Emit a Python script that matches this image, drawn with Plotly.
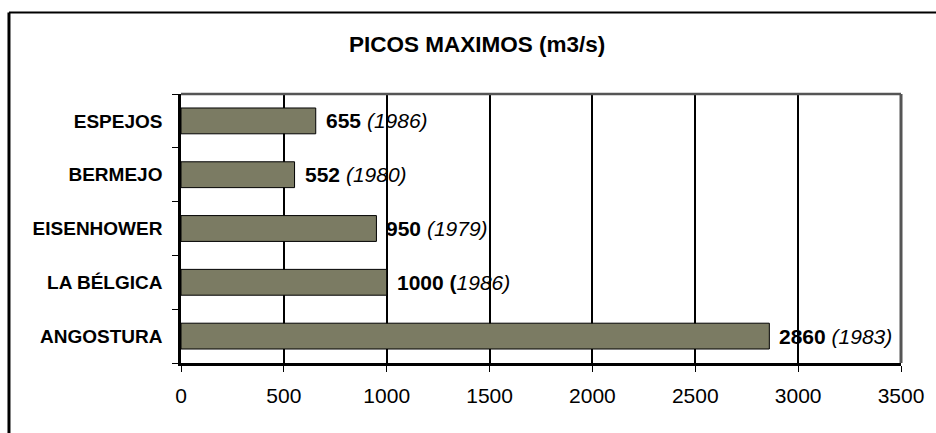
import plotly.graph_objects as go

# Peak discharges per station (bottom to top)
stations = ["ANGOSTURA", "LA BÉLGICA", "EISENHOWER", "BERMEJO", "ESPEJOS"]
peaks = [2860, 1000, 950, 552, 655]
years = [1983, 1986, 1979, 1980, 1986]
x_ticks = [0, 500, 1000, 1500, 2000, 2500, 3000, 3500]

W, H = 936, 433
L, R, T, B = 181, 33, 94, 70
pw, ph = W - L - R, H - T - B

FONT = "Liberation Sans, Arial, sans-serif"
BAR = "#7b7b63"


def px_x(p):
    return (p - L) / pw


def px_y(p):
    return (H - B - p) / ph


fig = go.Figure(go.Bar(
    x=peaks, y=stations, orientation="h",
    width=0.48,
    marker=dict(color=BAR, line=dict(color="black", width=1)),
    hoverinfo="x+y",
))

# value + year labels beside each bar
annotations = []
for s, v, yr in zip(stations, peaks, years):
    if v == 1000:
        txt = f"<b>{v} (</b><i>{yr})</i>"
    else:
        txt = f"<b>{v}</b> <i>({yr})</i>"
    annotations.append(dict(
        x=v, y=s, xref="x", yref="y", text=txt, showarrow=False,
        xanchor="left", yanchor="middle", xshift=8,
        font=dict(family=FONT, size=21, color="black"),
    ))

# chart title
annotations.append(dict(
    x=px_x(478), y=px_y(44), xref="paper", yref="paper",
    text="<b>PICOS MAXIMOS (m3/s)</b>", showarrow=False,
    xanchor="center", yanchor="middle",
    font=dict(family=FONT, size=22.5, color="black"),
))

shapes = [
    # outer chart frame (runs off the right and bottom edges)
    dict(type="line", xref="paper", yref="paper",
         x0=px_x(8.5), x1=px_x(960), y0=px_y(12.5), y1=px_y(12.5),
         line=dict(color="black", width=2), layer="below"),
    dict(type="line", xref="paper", yref="paper",
         x0=px_x(8.5), x1=px_x(8.5), y0=px_y(12.5), y1=px_y(460),
         line=dict(color="black", width=3), layer="below"),
    # grey top and right edges of the plot area
    dict(type="line", xref="paper", yref="paper",
         x0=0, x1=1, y0=1, y1=1,
         line=dict(color="#555555", width=2.5), layer="above"),
    dict(type="line", xref="paper", yref="paper",
         x0=1, x1=1, y0=0, y1=1,
         line=dict(color="#555555", width=3), layer="above"),
]

fig.update_layout(
    width=W, height=H,
    margin=dict(l=L, r=R, t=T, b=B, pad=0),
    paper_bgcolor="white", plot_bgcolor="white",
    showlegend=False,
    annotations=annotations,
    shapes=shapes,
    xaxis=dict(
        range=[0, 3500], tickvals=x_ticks, ticktext=[str(t) for t in x_ticks],
        showgrid=True, gridcolor="black", gridwidth=2,
        showline=True, linecolor="black", linewidth=2.5,
        zeroline=False,
        ticks="outside", ticklen=6, tickwidth=1, tickcolor="black",
        ticklabelstandoff=6,
        tickfont=dict(family=FONT, size=21, color="black"),
        fixedrange=True,
    ),
    yaxis=dict(
        categoryorder="array", categoryarray=stations,
        range=[-0.5, 4.5],
        showgrid=False,
        showline=True, linecolor="black", linewidth=2.5,
        ticks="outside", tickson="boundaries", ticklen=6, tickwidth=1,
        tickcolor="black",
        ticklabelstandoff=12,
        tickfont=dict(family=FONT, size=19, color="black"),
        fixedrange=True,
    ),
)

# bold category labels
fig.update_yaxes(ticktext=[f"<b>{s}</b>" for s in stations], tickvals=stations)

fig.write_html("out.html")
